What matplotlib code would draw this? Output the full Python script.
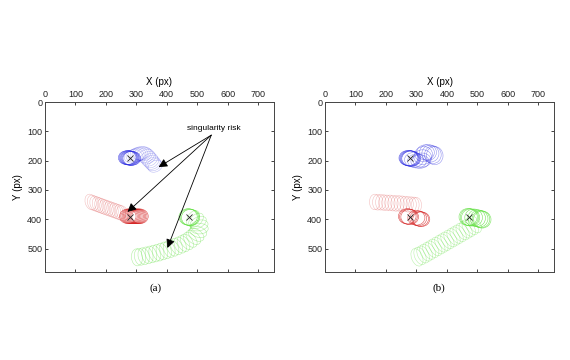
import matplotlib
matplotlib.use("Agg")
import matplotlib.pyplot as plt
from matplotlib.patches import Ellipse

plt.rcParams['font.family'] = ['Liberation Sans', 'DejaVu Sans']

# ---------------- panel (a) ----------------
# blue robot: dense start + trail
blue_a0_x = [270, 273, 276, 279, 282, 285]
blue_a0_y = [190, 190, 191, 191, 192, 192]
blue_a0_w = [58, 58, 58, 58, 58, 58]
blue_a0_h = [48, 48, 48, 48, 48, 48]
blue_a0_ang = [0, 0, 0, 0, 0, 0]

blue_a1_x = [290, 296, 302, 308, 314, 320, 326, 332, 338, 344, 349, 354, 358, 362]
blue_a1_y = [186, 183, 180, 177, 175, 176, 179, 184, 190, 197, 203, 209, 214, 219]
blue_a1_w = [60, 60, 60, 58, 58, 58, 56, 56, 54, 54, 52, 52, 50, 50]
blue_a1_h = [46, 46, 46, 46, 44, 44, 42, 42, 40, 40, 40, 38, 38, 38]
blue_a1_ang = [-10, -12, -15, -18, -20, -22, -25, -25, -28, -30, -30, -30, -30, -30]

# red robot: faint trail + dense end
red_a0_x = [150, 158, 166, 174, 182, 190, 198, 206, 214, 222, 230, 238, 246, 254]
red_a0_y = [341, 344, 347, 350, 353, 356, 359, 362, 365, 368, 371, 374, 377, 380]
red_a0_w = [36] * 14
red_a0_h = [54] * 14
red_a0_ang = [-15] * 14

red_a1_x = [272, 276, 280, 284, 288, 292, 296, 300, 304, 308, 312]
red_a1_y = [390, 390, 390, 390, 390, 390, 390, 390, 390, 390, 390]
red_a1_w = [54, 54, 54, 54, 54, 54, 54, 54, 54, 54, 54]
red_a1_h = [50, 50, 50, 50, 50, 50, 50, 50, 50, 50, 50]
red_a1_ang = [0, 0, 0, 0, 0, 0, 0, 0, 0, 0, 0]

# green robot: dense start + curling trail
green_a0_x = [470, 474, 478]
green_a0_y = [392, 393, 394]
green_a0_w = [60, 60, 60]
green_a0_h = [56, 56, 56]
green_a0_ang = [0, 0, 0]

green_a1_x = [486, 496, 503, 507, 507, 503, 496, 487, 477, 466, 455, 444,
              432, 420, 408, 396, 384, 372, 360, 348, 336, 324, 312, 302]
green_a1_y = [397, 403, 411, 421, 432, 443, 453, 462, 470, 477, 483, 488,
              493, 498, 502, 506, 510, 514, 517, 520, 523, 526, 528, 530]
green_a1_w = [36] * 24
green_a1_h = [58] * 24
green_a1_ang = [30, 45, 60, 75, 90, 110, 125, 135, 143, 148, 152, 155,
                157, 159, 161, 162, 163, 163, 164, 164, 165, 167, 170, 175]

# ---------------- panel (b) ----------------
blue_b0_x = [274, 277, 280, 283]
blue_b0_y = [191, 192, 193, 193]
blue_b0_w = [62, 62, 62, 62]
blue_b0_h = [52, 52, 52, 52]
blue_b0_ang = [0, 0, 0, 0]

blue_b1_x = [292, 302, 312, 318, 321, 324, 330, 338, 346, 354, 360]
blue_b1_y = [197, 201, 203, 198, 188, 178, 172, 172, 176, 180, 183]
blue_b1_w = [62, 62, 60, 60, 58, 58, 58, 56, 56, 55, 55]
blue_b1_h = [50, 48, 46, 48, 50, 52, 52, 54, 58, 60, 62]
blue_b1_ang = [0, 0, 0, 0, 0, 0, 0, 0, 0, 0, 0]

red_b0_x = [163, 173, 183, 193, 203, 213, 223, 233, 243, 253, 263, 273, 283, 292, 300]
red_b0_y = [341, 342, 342, 343, 344, 344, 345, 346, 346, 347, 348, 349, 350, 351, 352]
red_b0_w = [34] * 15
red_b0_h = [53] * 15
red_b0_ang = [0] * 15

red_b1_x = [270, 274, 278, 300, 306, 312, 316]
red_b1_y = [390, 391, 392, 395, 397, 399, 400]
red_b1_w = [58, 58, 58, 56, 56, 56, 56]
red_b1_h = [52, 52, 52, 50, 50, 50, 50]
red_b1_ang = [0, 0, 0, 0, 0, 0, 0]

green_b0_x = [470, 474, 478, 488, 498, 506, 512, 516]
green_b0_y = [392, 393, 394, 394, 396, 398, 400, 401]
green_b0_w = [60, 60, 60, 58, 58, 58, 58, 58]
green_b0_h = [58, 58, 58, 58, 58, 58, 58, 58]
green_b0_ang = [0, 0, 0, 0, 0, 0, 0, 0]

green_b1_x = [492, 482, 472, 462, 452, 442, 432, 422, 412, 402, 392, 382,
              372, 362, 352, 342, 332, 322, 312, 302]
green_b1_y = [418, 424, 430, 436, 442, 448, 454, 460, 466, 472, 478, 484,
              490, 496, 502, 508, 514, 520, 525, 530]
green_b1_w = [36] * 20
green_b1_h = [62] * 20
green_b1_ang = [-30] * 15 + [-28, -26, -24, -22, -20]

# robot positions (x markers)
cross_x = [278, 278, 474]
cross_y = [192, 391, 393]

# arrows in (a)
arrow_from = (546, 113)
arrow_to = [(373, 222), (271, 375), (402, 498)]

BLUE = '#2b2be0'
RED = '#d41e1e'
GREEN = '#55dd33'


def trail(ax, xs, ys, ws, hs, angs, color, alpha, lw=0.4):
    for x, y, w, h, a in zip(xs, ys, ws, hs, angs):
        ax.add_patch(Ellipse((x, y), w, h, angle=a, fill=False,
                             edgecolor=color, alpha=alpha, lw=lw))


def setup(ax):
    ax.set_xlim(0, 752)
    ax.set_ylim(580, 0)
    ax.set_xticks(range(0, 800, 100))
    ax.set_yticks(range(0, 600, 100))
    ax.xaxis.tick_top()
    ax.xaxis.set_label_position('top')
    ax.tick_params(direction='in', top=True, bottom=True, left=True, right=True,
                   labelsize=6.5, length=2.5, width=0.6, pad=2, colors='#222222')
    for s in ax.spines.values():
        s.set_linewidth(0.7)
        s.set_color('#444444')
    ax.set_xlabel('X (px)', fontsize=7, labelpad=4)
    ax.set_ylabel('Y (px)', fontsize=7, labelpad=3)
    ax.plot(cross_x, cross_y, 'x', color='#222222', ms=4, mew=0.6)


fig = plt.figure(figsize=(5.7, 3.6), dpi=100)
ax_a = fig.add_axes([0.0789, 0.2444, 0.4018, 0.4722])
ax_b = fig.add_axes([0.5702, 0.2444, 0.4018, 0.4722])

trail(ax_a, blue_a1_x, blue_a1_y, blue_a1_w, blue_a1_h, blue_a1_ang, BLUE, 0.3)
trail(ax_a, blue_a0_x, blue_a0_y, blue_a0_w, blue_a0_h, blue_a0_ang, BLUE, 0.8)
trail(ax_a, red_a0_x, red_a0_y, red_a0_w, red_a0_h, red_a0_ang, RED, 0.28)
trail(ax_a, red_a1_x, red_a1_y, red_a1_w, red_a1_h, red_a1_ang, RED, 0.8)
trail(ax_a, green_a1_x, green_a1_y, green_a1_w, green_a1_h, green_a1_ang, GREEN, 0.45)
trail(ax_a, green_a0_x, green_a0_y, green_a0_w, green_a0_h, green_a0_ang, GREEN, 0.85)
setup(ax_a)

for tgt in arrow_to:
    ax_a.annotate('', xy=tgt, xytext=arrow_from,
                  arrowprops=dict(arrowstyle='-|>', color='k', lw=0.6,
                                  mutation_scale=13, shrinkA=0, shrinkB=0))
ax_a.text(553, 92, 'singularity risk', fontsize=6, ha='center', va='center')

trail(ax_b, blue_b1_x, blue_b1_y, blue_b1_w, blue_b1_h, blue_b1_ang, BLUE, 0.5)
trail(ax_b, blue_b0_x, blue_b0_y, blue_b0_w, blue_b0_h, blue_b0_ang, BLUE, 0.85)
trail(ax_b, red_b0_x, red_b0_y, red_b0_w, red_b0_h, red_b0_ang, RED, 0.28)
trail(ax_b, red_b1_x, red_b1_y, red_b1_w, red_b1_h, red_b1_ang, RED, 0.8)
trail(ax_b, green_b1_x, green_b1_y, green_b1_w, green_b1_h, green_b1_ang, GREEN, 0.4)
trail(ax_b, green_b0_x, green_b0_y, green_b0_w, green_b0_h, green_b0_ang, GREEN, 0.8)
setup(ax_b)

fig.text(156 / 570, 1 - 288 / 360, '(a)', family='Liberation Serif', fontsize=8,
         ha='center', va='center')
fig.text(439 / 570, 1 - 288 / 360, '(b)', family='Liberation Serif', fontsize=8,
         ha='center', va='center')

fig.savefig('out.png', dpi=100)
